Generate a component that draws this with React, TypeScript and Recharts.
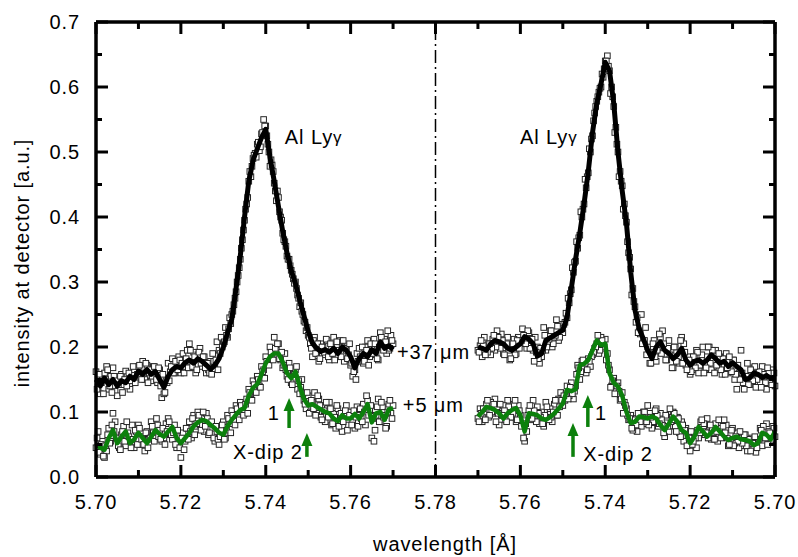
import React from 'react';
import { ComposedChart, Scatter, XAxis, YAxis, ReferenceLine, ReferenceDot } from 'recharts';

const WIDTH = 798;
const HEIGHT = 557;
const FONT = "'Liberation Sans', Arial, Helvetica, sans-serif";
const GREEN = '#0c800c';
const INK = '#000';
const MARGIN = { top: 22, right: 23, bottom: 30, left: 36 };

// wavelength grid (Å)
const lambdaStart = 5.7;
const lineStep = 0.001;
const scatterStep = 0.0005;
const scatterOffsetB = 0.00025;
const mirrorWavelength = 5.78;

// smoothed curves, λ = 5.700 ... 5.770 step 0.001
const leftBlackLine = [
  0.150, 0.140, 0.152, 0.142, 0.150, 0.140, 0.148, 0.145, 0.155, 0.150,
  0.163, 0.158, 0.165, 0.158, 0.162, 0.150, 0.138, 0.155, 0.165, 0.170,
  0.168, 0.176, 0.180, 0.175, 0.182, 0.178, 0.172, 0.166, 0.172, 0.182,
  0.200, 0.222, 0.243, 0.290, 0.340, 0.400, 0.455, 0.487, 0.505, 0.522,
  0.535, 0.492, 0.455, 0.416, 0.378, 0.345, 0.318, 0.297, 0.272, 0.248,
  0.224, 0.206, 0.198, 0.193, 0.196, 0.192, 0.198, 0.190, 0.200, 0.195,
  0.185, 0.168, 0.182, 0.190, 0.185, 0.196, 0.190, 0.208, 0.198, 0.202,
  0.196,
];
const leftGreenLine = [
  0.050, 0.045, 0.042, 0.060, 0.072, 0.052, 0.062, 0.070, 0.052, 0.058,
  0.068, 0.060, 0.052, 0.062, 0.072, 0.066, 0.062, 0.070, 0.077, 0.060,
  0.052, 0.060, 0.068, 0.078, 0.084, 0.088, 0.086, 0.080, 0.075, 0.068,
  0.065, 0.078, 0.088, 0.096, 0.103, 0.106, 0.125, 0.137, 0.143, 0.158,
  0.175, 0.185, 0.190, 0.190, 0.177, 0.160, 0.152, 0.162, 0.140, 0.120,
  0.110, 0.112, 0.108, 0.104, 0.100, 0.098, 0.090, 0.086, 0.095, 0.090,
  0.090, 0.097, 0.090, 0.100, 0.112, 0.084, 0.098, 0.100, 0.088, 0.104,
  0.106,
];
const rightBlackLine = [
  0.154, 0.152, 0.156, 0.153, 0.158, 0.160, 0.152, 0.150, 0.165, 0.170,
  0.176, 0.170, 0.178, 0.175, 0.182, 0.188, 0.180, 0.175, 0.180, 0.178,
  0.172, 0.180, 0.198, 0.188, 0.182, 0.190, 0.195, 0.208, 0.200, 0.182,
  0.195, 0.212, 0.228, 0.257, 0.315, 0.390, 0.440, 0.500, 0.575, 0.625,
  0.638, 0.605, 0.575, 0.530, 0.470, 0.420, 0.375, 0.335, 0.290, 0.246,
  0.226, 0.222, 0.218, 0.214, 0.210, 0.190, 0.186, 0.205, 0.212, 0.216,
  0.205, 0.200, 0.195, 0.198, 0.205, 0.208, 0.210, 0.205, 0.195, 0.198,
  0.200,
];
const rightGreenLine = [
  0.070, 0.058, 0.065, 0.068, 0.052, 0.049, 0.055, 0.057, 0.058, 0.062,
  0.060, 0.057, 0.062, 0.070, 0.077, 0.068, 0.062, 0.070, 0.077, 0.062,
  0.052, 0.068, 0.072, 0.085, 0.093, 0.082, 0.072, 0.080, 0.090, 0.093,
  0.090, 0.092, 0.093, 0.085, 0.083, 0.100, 0.125, 0.139, 0.145, 0.160,
  0.205, 0.203, 0.210, 0.195, 0.180, 0.174, 0.172, 0.135, 0.132, 0.134,
  0.113, 0.105, 0.098, 0.092, 0.088, 0.090, 0.095, 0.097, 0.098, 0.070,
  0.095, 0.106, 0.103, 0.098, 0.090, 0.098, 0.103, 0.106, 0.108, 0.100,
  0.093,
];

// measured points, set A: λ = 5.7000 ... 5.7700 step 0.0005
const leftBlackPoints = [
  0.162, 0.138, 0.128, 0.150, 0.160, 0.170, 0.135, 0.155, 0.168, 0.132,
  0.125, 0.150, 0.158, 0.142, 0.163, 0.148, 0.135, 0.158, 0.165, 0.152,
  0.170, 0.155, 0.178, 0.150, 0.172, 0.160, 0.148, 0.170, 0.158, 0.145,
  0.165, 0.122, 0.128, 0.148, 0.175, 0.162, 0.182, 0.160, 0.176, 0.185,
  0.160, 0.190, 0.170, 0.195, 0.205, 0.168, 0.192, 0.160, 0.188, 0.198,
  0.170, 0.185, 0.160, 0.165, 0.178, 0.190, 0.172, 0.208, 0.195, 0.215,
  0.205, 0.230, 0.215, 0.245, 0.250, 0.265, 0.285, 0.310, 0.335, 0.365,
  0.395, 0.420, 0.455, 0.462, 0.490, 0.498, 0.512, 0.502, 0.528, 0.550,
  0.540, 0.512, 0.478, 0.480, 0.452, 0.425, 0.430, 0.400, 0.375, 0.362,
  0.340, 0.335, 0.318, 0.305, 0.300, 0.280, 0.262, 0.255, 0.240, 0.225,
  0.218, 0.205, 0.185, 0.215, 0.190, 0.178, 0.205, 0.200, 0.188, 0.210,
  0.180, 0.200, 0.215, 0.185, 0.192, 0.210, 0.200, 0.178, 0.195, 0.188,
  0.172, 0.155, 0.165, 0.190, 0.198, 0.182, 0.175, 0.200, 0.210, 0.185,
  0.198, 0.212, 0.188, 0.180, 0.222, 0.200, 0.212, 0.190, 0.195, 0.218,
  0.205,
];
const leftGreenPoints = [
  0.045, 0.070, 0.035, 0.055, 0.030, 0.040, 0.075, 0.055, 0.098, 0.085,
  0.060, 0.045, 0.065, 0.078, 0.048, 0.068, 0.055, 0.080, 0.045, 0.070,
  0.080, 0.050, 0.062, 0.040, 0.070, 0.058, 0.085, 0.068, 0.060, 0.080,
  0.072, 0.055, 0.060, 0.082, 0.090, 0.065, 0.058, 0.080, 0.045, 0.062,
  0.030, 0.068, 0.055, 0.075, 0.085, 0.060, 0.095, 0.078, 0.100, 0.080,
  0.090, 0.070, 0.098, 0.065, 0.082, 0.075, 0.055, 0.070, 0.050, 0.072,
  0.085, 0.060, 0.095, 0.082, 0.102, 0.088, 0.110, 0.095, 0.115, 0.100,
  0.098, 0.120, 0.135, 0.128, 0.148, 0.135, 0.155, 0.140, 0.170, 0.165,
  0.185, 0.178, 0.200, 0.182, 0.215, 0.195, 0.205, 0.180, 0.168, 0.190,
  0.155, 0.175, 0.145, 0.160, 0.165, 0.135, 0.128, 0.150, 0.118, 0.105,
  0.125, 0.100, 0.115, 0.130, 0.098, 0.120, 0.092, 0.110, 0.085, 0.105,
  0.115, 0.080, 0.098, 0.075, 0.105, 0.090, 0.070, 0.095, 0.110, 0.080,
  0.100, 0.085, 0.075, 0.108, 0.095, 0.090, 0.112, 0.080, 0.118, 0.102,
  0.060, 0.055, 0.095, 0.120, 0.085, 0.108, 0.095, 0.078, 0.112, 0.098,
  0.110,
];
const rightBlackPoints = [
  0.140, 0.165, 0.148, 0.160, 0.135, 0.155, 0.170, 0.145, 0.160, 0.138,
  0.168, 0.150, 0.142, 0.175, 0.155, 0.145, 0.195, 0.160, 0.135, 0.150,
  0.180, 0.165, 0.160, 0.190, 0.172, 0.158, 0.185, 0.165, 0.195, 0.170,
  0.165, 0.200, 0.185, 0.165, 0.200, 0.172, 0.160, 0.195, 0.185, 0.165,
  0.158, 0.185, 0.172, 0.205, 0.215, 0.175, 0.185, 0.200, 0.168, 0.195,
  0.210, 0.180, 0.195, 0.225, 0.215, 0.200, 0.178, 0.210, 0.192, 0.175,
  0.200, 0.230, 0.210, 0.250, 0.225, 0.245, 0.262, 0.290, 0.320, 0.345,
  0.392, 0.420, 0.448, 0.470, 0.500, 0.538, 0.570, 0.600, 0.625, 0.648,
  0.640, 0.615, 0.600, 0.592, 0.578, 0.560, 0.525, 0.500, 0.468, 0.445,
  0.420, 0.400, 0.372, 0.352, 0.332, 0.315, 0.288, 0.268, 0.245, 0.238,
  0.222, 0.235, 0.210, 0.242, 0.215, 0.200, 0.225, 0.208, 0.195, 0.230,
  0.185, 0.175, 0.200, 0.215, 0.195, 0.210, 0.222, 0.198, 0.212, 0.228,
  0.205, 0.215, 0.190, 0.212, 0.200, 0.180, 0.215, 0.198, 0.190, 0.220,
  0.208, 0.225, 0.195, 0.212, 0.188, 0.205, 0.200, 0.215, 0.185, 0.202,
  0.195,
];
const rightGreenPoints = [
  0.062, 0.078, 0.055, 0.070, 0.082, 0.060, 0.048, 0.075, 0.058, 0.038,
  0.045, 0.060, 0.052, 0.040, 0.065, 0.048, 0.060, 0.045, 0.068, 0.052,
  0.075, 0.058, 0.048, 0.080, 0.088, 0.065, 0.075, 0.055, 0.082, 0.068,
  0.058, 0.078, 0.090, 0.065, 0.070, 0.085, 0.060, 0.045, 0.068, 0.050,
  0.040, 0.060, 0.075, 0.055, 0.085, 0.068, 0.092, 0.078, 0.100, 0.085,
  0.070, 0.092, 0.062, 0.080, 0.098, 0.078, 0.105, 0.085, 0.075, 0.098,
  0.110, 0.082, 0.100, 0.078, 0.092, 0.070, 0.090, 0.072, 0.095, 0.088,
  0.105, 0.115, 0.130, 0.118, 0.145, 0.135, 0.152, 0.140, 0.165, 0.190,
  0.212, 0.198, 0.215, 0.190, 0.205, 0.198, 0.188, 0.170, 0.182, 0.160,
  0.168, 0.178, 0.150, 0.172, 0.140, 0.120, 0.145, 0.125, 0.140, 0.118,
  0.110, 0.130, 0.120, 0.095, 0.112, 0.085, 0.105, 0.090, 0.115, 0.078,
  0.100, 0.082, 0.108, 0.095, 0.118, 0.088, 0.102, 0.070, 0.055, 0.080,
  0.095, 0.110, 0.085, 0.112, 0.100, 0.092, 0.118, 0.088, 0.110, 0.095,
  0.080, 0.108, 0.120, 0.098, 0.115, 0.092, 0.112, 0.100, 0.085, 0.105,
  0.090,
];

// measured points, set B: λ = 5.70025 ... 5.76975 step 0.0005
const leftBlackPointsB = [
  0.135, 0.158, 0.145, 0.128, 0.150, 0.165, 0.140, 0.130, 0.155, 0.148,
  0.142, 0.155, 0.130, 0.150, 0.140, 0.160, 0.148, 0.170, 0.145, 0.158,
  0.172, 0.150, 0.160, 0.175, 0.145, 0.165, 0.155, 0.170, 0.150, 0.168,
  0.140, 0.158, 0.130, 0.145, 0.148, 0.170, 0.160, 0.178, 0.165, 0.180,
  0.175, 0.160, 0.182, 0.168, 0.195, 0.170, 0.185, 0.165, 0.192, 0.175,
  0.185, 0.168, 0.175, 0.160, 0.158, 0.178, 0.180, 0.165, 0.190, 0.200,
  0.208, 0.218, 0.228, 0.236, 0.255, 0.275, 0.300, 0.322, 0.352, 0.380,
  0.412, 0.430, 0.470, 0.478, 0.495, 0.492, 0.515, 0.508, 0.530, 0.540,
  0.525, 0.500, 0.488, 0.470, 0.440, 0.440, 0.408, 0.395, 0.365, 0.355,
  0.335, 0.325, 0.312, 0.298, 0.290, 0.275, 0.268, 0.250, 0.238, 0.230,
  0.215, 0.198, 0.210, 0.190, 0.205, 0.182, 0.200, 0.192, 0.212, 0.185,
  0.205, 0.190, 0.180, 0.208, 0.195, 0.185, 0.210, 0.198, 0.182, 0.205,
  0.175, 0.162, 0.150, 0.178, 0.185, 0.200, 0.178, 0.195, 0.172, 0.205,
  0.190, 0.205, 0.182, 0.200, 0.215, 0.195, 0.208, 0.225, 0.198, 0.210,
];
const leftGreenPointsB = [
  0.060, 0.038, 0.050, 0.032, 0.048, 0.065, 0.052, 0.080, 0.070, 0.060,
  0.048, 0.042, 0.070, 0.055, 0.085, 0.062, 0.045, 0.058, 0.072, 0.050,
  0.075, 0.058, 0.050, 0.068, 0.045, 0.060, 0.078, 0.055, 0.090, 0.062,
  0.058, 0.075, 0.050, 0.070, 0.085, 0.065, 0.068, 0.050, 0.072, 0.045,
  0.060, 0.042, 0.075, 0.058, 0.070, 0.090, 0.065, 0.082, 0.095, 0.072,
  0.100, 0.078, 0.090, 0.068, 0.085, 0.060, 0.078, 0.058, 0.062, 0.080,
  0.058, 0.072, 0.090, 0.068, 0.095, 0.080, 0.105, 0.088, 0.110, 0.095,
  0.112, 0.098, 0.130, 0.118, 0.142, 0.130, 0.150, 0.138, 0.162, 0.152,
  0.178, 0.172, 0.192, 0.180, 0.198, 0.205, 0.182, 0.192, 0.172, 0.165,
  0.150, 0.168, 0.142, 0.158, 0.170, 0.148, 0.138, 0.128, 0.112, 0.130,
  0.098, 0.118, 0.105, 0.095, 0.125, 0.110, 0.088, 0.102, 0.115, 0.092,
  0.105, 0.082, 0.092, 0.110, 0.078, 0.098, 0.085, 0.102, 0.072, 0.095,
  0.080, 0.102, 0.092, 0.078, 0.105, 0.085, 0.100, 0.125, 0.095, 0.110,
  0.090, 0.072, 0.108, 0.085, 0.115, 0.092, 0.075, 0.100, 0.118, 0.090,
];
const rightBlackPointsB = [
  0.160, 0.142, 0.150, 0.168, 0.145, 0.158, 0.138, 0.162, 0.150, 0.170,
  0.148, 0.165, 0.142, 0.155, 0.135, 0.160, 0.150, 0.172, 0.158, 0.180,
  0.162, 0.185, 0.168, 0.158, 0.182, 0.165, 0.190, 0.172, 0.160, 0.195,
  0.175, 0.200, 0.168, 0.160, 0.188, 0.172, 0.192, 0.168, 0.185, 0.162,
  0.180, 0.165, 0.192, 0.175, 0.210, 0.185, 0.178, 0.200, 0.168, 0.188,
  0.198, 0.180, 0.205, 0.190, 0.220, 0.195, 0.185, 0.205, 0.175, 0.190,
  0.188, 0.210, 0.205, 0.220, 0.222, 0.238, 0.270, 0.280, 0.338, 0.362,
  0.402, 0.412, 0.455, 0.462, 0.512, 0.530, 0.585, 0.590, 0.632, 0.640,
  0.628, 0.620, 0.598, 0.585, 0.570, 0.548, 0.520, 0.505, 0.462, 0.458,
  0.412, 0.408, 0.368, 0.362, 0.330, 0.322, 0.282, 0.275, 0.252, 0.235,
  0.228, 0.215, 0.232, 0.218, 0.205, 0.225, 0.212, 0.200, 0.218, 0.195,
  0.198, 0.182, 0.192, 0.178, 0.212, 0.198, 0.225, 0.205, 0.218, 0.210,
  0.198, 0.210, 0.188, 0.205, 0.182, 0.195, 0.205, 0.188, 0.210, 0.198,
  0.215, 0.200, 0.218, 0.198, 0.205, 0.192, 0.188, 0.202, 0.210, 0.192,
];
const rightGreenPointsB = [
  0.075, 0.058, 0.068, 0.050, 0.060, 0.078, 0.072, 0.058, 0.045, 0.062,
  0.052, 0.040, 0.058, 0.048, 0.065, 0.052, 0.070, 0.055, 0.062, 0.048,
  0.072, 0.050, 0.060, 0.068, 0.078, 0.060, 0.088, 0.070, 0.058, 0.075,
  0.080, 0.060, 0.068, 0.082, 0.088, 0.068, 0.072, 0.060, 0.055, 0.070,
  0.060, 0.048, 0.072, 0.080, 0.062, 0.090, 0.070, 0.098, 0.088, 0.105,
  0.078, 0.095, 0.068, 0.088, 0.082, 0.095, 0.102, 0.085, 0.092, 0.080,
  0.085, 0.100, 0.092, 0.085, 0.098, 0.080, 0.088, 0.075, 0.090, 0.095,
  0.110, 0.098, 0.120, 0.132, 0.140, 0.128, 0.148, 0.138, 0.172, 0.180,
  0.200, 0.210, 0.195, 0.218, 0.200, 0.192, 0.185, 0.178, 0.165, 0.175,
  0.180, 0.162, 0.168, 0.158, 0.132, 0.128, 0.138, 0.120, 0.128, 0.125,
  0.118, 0.108, 0.095, 0.118, 0.100, 0.092, 0.088, 0.108, 0.095, 0.082,
  0.092, 0.098, 0.085, 0.102, 0.090, 0.110, 0.095, 0.082, 0.060, 0.078,
  0.102, 0.088, 0.118, 0.098, 0.092, 0.108, 0.085, 0.102, 0.095, 0.112,
  0.098, 0.085, 0.112, 0.100, 0.095, 0.118, 0.088, 0.105, 0.098, 0.085,
];

// axis ticks (x in plot-position units: 0..0.08 left half, 0.08..0.16 mirrored right half)
const xTickPositions = [0, 0.01, 0.02, 0.03, 0.04, 0.05, 0.06, 0.07, 0.08, 0.09, 0.1, 0.11, 0.12, 0.13, 0.14, 0.15, 0.16];
const yTickValues = [0, 0.05, 0.1, 0.15, 0.2, 0.25, 0.3, 0.35, 0.4, 0.45, 0.5, 0.55, 0.6, 0.65, 0.7];
const xDomain = [0, 0.16];
const yDomain = [0, 0.7];

// annotations (wavelength, intensity)
const textNotes = [
  { side: 'L', lambda: 5.7445, value: 0.523, text: 'Al Ly', greek: 'γ', anchor: 'start', halo: false },
  { side: 'R', lambda: 5.7601, value: 0.523, text: 'Al Ly', greek: 'γ', anchor: 'start', halo: false },
  { side: 'L', lambda: 5.7709, value: 0.192, text: '+37 μm', greek: '', anchor: 'start', halo: true },
  { side: 'L', lambda: 5.7723, value: 0.111, text: '+5 μm', greek: '', anchor: 'start', halo: true },
  { side: 'L', lambda: 5.7419, value: 0.098, text: '1', greek: '', anchor: 'middle', halo: false },
  { side: 'L', lambda: 5.7323, value: 0.039, text: 'X-dip 2', greek: '', anchor: 'start', halo: false },
  { side: 'R', lambda: 5.741, value: 0.098, text: '1', greek: '', anchor: 'middle', halo: false },
  { side: 'R', lambda: 5.7452, value: 0.036, text: 'X-dip 2', greek: '', anchor: 'start', halo: false },
];
const arrowNotes = [
  { side: 'L', lambda: 5.7455, tip: 0.1215, tail: 0.0754 },
  { side: 'L', lambda: 5.7497, tip: 0.0677, tail: 0.031 },
  { side: 'R', lambda: 5.7441, tip: 0.126, tail: 0.077 },
  { side: 'R', lambda: 5.7476, tip: 0.083, tail: 0.031 },
];

const halfSpan = mirrorWavelength - lambdaStart;
const posLeft = (lam: number) => lam - lambdaStart;
const posRight = (lam: number) => 2 * mirrorWavelength - lambdaStart - lam;
const toPos = (side: string, lam: number) => (side === 'L' ? posLeft(lam) : posRight(lam));
const series = (values: number[], step: number, side: string, offset = 0) =>
  values.map((y, i) => ({ x: toPos(side, lambdaStart + offset + step * i), y }));
const tickLabel = (p: number) =>
  (p <= halfSpan + 1e-9 ? lambdaStart + p : 2 * mirrorWavelength - lambdaStart - p).toFixed(2);
const isMajorX = (t: number) => Math.round(t * 100) % 2 === 0;
const isMajorY = (v: number) => Math.round(v * 100) % 10 === 0;

const lbLine = series(leftBlackLine, lineStep, 'L');
const lgLine = series(leftGreenLine, lineStep, 'L');
const rbLine = series(rightBlackLine, lineStep, 'R');
const rgLine = series(rightGreenLine, lineStep, 'R');
const lbPts = [...series(leftBlackPoints, scatterStep, 'L'), ...series(leftBlackPointsB, scatterStep, 'L', scatterOffsetB)];
const lgPts = [...series(leftGreenPoints, scatterStep, 'L'), ...series(leftGreenPointsB, scatterStep, 'L', scatterOffsetB)];
const rbPts = [...series(rightBlackPoints, scatterStep, 'R'), ...series(rightBlackPointsB, scatterStep, 'R', scatterOffsetB)];
const rgPts = [...series(rightGreenPoints, scatterStep, 'R'), ...series(rightGreenPointsB, scatterStep, 'R', scatterOffsetB)];
const cornerPts = [
  { x: xDomain[0], y: yDomain[0] },
  { x: xDomain[1], y: yDomain[1] },
];

const textStyle = { fontSize: 20, fontFamily: FONT, letterSpacing: 0.9, fill: INK } as const;

// ---- stable render functions ----
function BottomLabel(props: any) {
  const { x, y, payload } = props;
  const v = payload.value as number;
  if (!isMajorX(v)) return <g />;
  return (
    <text x={x} y={y + 32} textAnchor="middle" {...textStyle}>
      {tickLabel(v)}
    </text>
  );
}
function LeftLabel(props: any) {
  const { x, y, payload } = props;
  const v = payload.value as number;
  if (!isMajorY(v)) return <g />;
  return (
    <text x={x - 16} y={y + 7} textAnchor="end" {...textStyle}>
      {v.toFixed(1)}
    </text>
  );
}
function XTitle() {
  return (
    <text x={445} y={551} textAnchor="middle" {...textStyle}>
      wavelength [Å]
    </text>
  );
}
function YTitle() {
  return (
    <text x={29} y={263} textAnchor="middle" transform="rotate(-90 29 263)" {...textStyle}>
      intensity at detector [a.u.]
    </text>
  );
}

const makeXTick = (len: number) =>
  function XTick(p: any) {
    const x = p.x1;
    const bottom = Math.max(p.y1, p.y2);
    const top = Math.min(p.y1, p.y2);
    return (
      <g>
        <line x1={x} x2={x} y1={bottom} y2={bottom - len} stroke={INK} strokeWidth={3} />
        <line x1={x} x2={x} y1={top} y2={top + len} stroke={INK} strokeWidth={3} />
      </g>
    );
  };
const makeYTick = (len: number) =>
  function YTick(p: any) {
    const y = p.y1;
    const left = Math.min(p.x1, p.x2);
    const right = Math.max(p.x1, p.x2);
    return (
      <g>
        <line x1={left} x2={left + len} y1={y} y2={y} stroke={INK} strokeWidth={3} />
        <line x1={right} x2={right - len} y1={y} y2={y} stroke={INK} strokeWidth={3} />
      </g>
    );
  };
const xTickMajor = makeXTick(12);
const xTickMinor = makeXTick(7);
const yTickMajor = makeYTick(12);
const yTickMinor = makeYTick(6);

function squareShape(p: any) {
  return <rect x={p.cx - 2.8} y={p.cy - 2.8} width={5.6} height={5.6} fill="#fff" stroke="#262626" strokeWidth={1} />;
}
function noSymbol() {
  return <g />;
}
function arrowShape(p: any) {
  const { x1, y1, x2, y2 } = p;
  const tx = x2;
  const ty = Math.min(y1, y2);
  const by = Math.max(y1, y2);
  return (
    <g>
      <line x1={x1} x2={tx} y1={by} y2={ty + 9} stroke={GREEN} strokeWidth={3.5} />
      <polygon points={`${tx},${ty} ${tx - 5.5},${ty + 13} ${tx + 5.5},${ty + 13}`} fill={GREEN} />
    </g>
  );
}
const noteShapes = textNotes.map((n) =>
  function NoteShape(p: any) {
    return (
      <text
        x={p.cx}
        y={p.cy}
        textAnchor={n.anchor as any}
        dominantBaseline="central"
        {...textStyle}
        stroke={n.halo ? '#fff' : 'none'}
        strokeWidth={n.halo ? 6 : 0}
        paintOrder="stroke"
      >
        {n.text}
        {n.greek ? <tspan fontSize={17}>{n.greek}</tspan> : null}
      </text>
    );
  }
);

const xTitleLabel = { content: XTitle };
const yTitleLabel = { content: YTitle };
const blackCurve = { stroke: INK, strokeWidth: 5, strokeLinejoin: 'round' as const };
const greenCurve = { stroke: GREEN, strokeWidth: 4.5, strokeLinejoin: 'round' as const };

// frame + inward ticks, drawn by a second chart sharing identical scales, layered on top
function FrameLayer() {
  return (
    <ComposedChart width={WIDTH} height={HEIGHT} margin={MARGIN}>
      <XAxis type="number" dataKey="x" domain={xDomain} ticks={xTickPositions} tick={false} tickLine={false} axisLine={false} height={50} />
      <YAxis type="number" dataKey="y" domain={yDomain} ticks={yTickValues} tick={false} tickLine={false} axisLine={false} width={60} />
      <Scatter data={cornerPts} shape={noSymbol} isAnimationActive={false} />
      <ReferenceLine x={xDomain[0]} stroke={INK} strokeWidth={3.5} />
      <ReferenceLine x={xDomain[1]} stroke={INK} strokeWidth={3.5} />
      <ReferenceLine y={yDomain[0]} stroke={INK} strokeWidth={3.5} />
      <ReferenceLine y={yDomain[1]} stroke={INK} strokeWidth={3.5} />
      {xTickPositions.map((t) => (
        <ReferenceLine
          key={`xt-${t}`}
          segment={[
            { x: t, y: yDomain[0] },
            { x: t, y: yDomain[1] },
          ]}
          shape={isMajorX(t) ? xTickMajor : xTickMinor}
        />
      ))}
      {yTickValues.map((v) => (
        <ReferenceLine
          key={`yt-${v}`}
          segment={[
            { x: xDomain[0], y: v },
            { x: xDomain[1], y: v },
          ]}
          shape={isMajorY(v) ? yTickMajor : yTickMinor}
        />
      ))}
    </ComposedChart>
  );
}

export default function App() {
  return (
    <div style={{ position: 'absolute', left: 0, top: 0, width: WIDTH, height: HEIGHT, background: '#fff' }}>
      <ComposedChart width={WIDTH} height={HEIGHT} margin={MARGIN}>
        <XAxis
          type="number"
          dataKey="x"
          domain={xDomain}
          ticks={xTickPositions}
          interval={0}
          tickSize={0}
          tickMargin={0}
          tickLine={false}
          axisLine={false}
          tick={BottomLabel}
          height={50}
          label={xTitleLabel}
        />
        <YAxis
          type="number"
          dataKey="y"
          domain={yDomain}
          ticks={yTickValues}
          interval={0}
          tickSize={0}
          tickMargin={0}
          tickLine={false}
          axisLine={false}
          tick={LeftLabel}
          width={60}
          label={yTitleLabel}
        />

        <ReferenceLine x={halfSpan} stroke={INK} strokeWidth={1.5} strokeDasharray="13 4 2 4" />

        {/* measured points */}
        <Scatter data={lbPts} shape={squareShape} isAnimationActive={false} />
        <Scatter data={lgPts} shape={squareShape} isAnimationActive={false} />
        <Scatter data={rbPts} shape={squareShape} isAnimationActive={false} />
        <Scatter data={rgPts} shape={squareShape} isAnimationActive={false} />

        {/* smoothed curves drawn on top of the points */}
        <Scatter data={lbLine} line={blackCurve} lineJointType="linear" shape={noSymbol} isAnimationActive={false} />
        <Scatter data={rbLine} line={blackCurve} lineJointType="linear" shape={noSymbol} isAnimationActive={false} />
        <Scatter data={lgLine} line={greenCurve} lineJointType="linear" shape={noSymbol} isAnimationActive={false} />
        <Scatter data={rgLine} line={greenCurve} lineJointType="linear" shape={noSymbol} isAnimationActive={false} />

        {arrowNotes.map((a, i) => (
          <ReferenceLine
            key={`arrow-${i}`}
            segment={[
              { x: toPos(a.side, a.lambda), y: a.tail },
              { x: toPos(a.side, a.lambda), y: a.tip },
            ]}
            shape={arrowShape}
          />
        ))}
        {textNotes.map((n, i) => (
          <ReferenceDot key={`note-${i}`} x={toPos(n.side, n.lambda)} y={n.value} r={0} shape={noteShapes[i]} />
        ))}
      </ComposedChart>
      <div style={{ position: 'absolute', left: 0, top: 0, width: WIDTH, height: HEIGHT, pointerEvents: 'none' }}>
        <FrameLayer />
      </div>
    </div>
  );
}
